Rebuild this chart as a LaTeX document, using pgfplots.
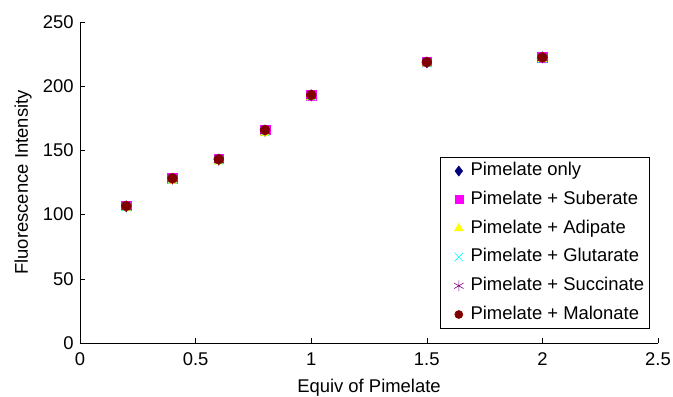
\documentclass[border=0pt]{standalone}
\usepackage{pgfplots}
\pgfplotsset{compat=1.18}
\usepackage{fontspec}
\setmainfont{Liberation Sans}
\definecolor{navy}{RGB}{0,0,128}
\definecolor{dred}{RGB}{128,0,0}
\definecolor{purp}{RGB}{128,0,128}
\definecolor{mag}{RGB}{255,0,255}
\definecolor{yel}{RGB}{255,255,0}
\definecolor{cya}{RGB}{0,255,255}
\newcommand{\f}{\fontsize{18.5}{22}\selectfont}
\begin{document}
\f
\begin{tikzpicture}
\begin{axis}[
  name=ax,
  scale only axis,
  width=578bp, height=321bp,
  xmin=0, xmax=2.5, ymin=0, ymax=250,
  xtick={0,0.5,1,1.5,2,2.5},
  ytick={0,50,100,150,200,250},
  axis x line*=bottom, axis y line*=left,
  tick align=inside,
  major tick length=5bp,
  tick style={black, line width=0.5bp},
  axis line style={black, line width=0.6bp},
  /pgf/number format/assume math mode=true,
  ticklabel style={font=\f},
  xticklabel style={yshift=-3bp},
  xlabel={Equiv of Pimelate},
  ylabel={Fluorescence Intensity},
  xlabel style={font=\f, at={(axis description cs:0.5,0)}, anchor=base, yshift=-49bp},
  ylabel style={font=\f, at={(axis description cs:0,0.5)}, anchor=center, yshift=57bp},
  legend style={at={(0.9862,0.0436)}, anchor=south east, draw=black, line width=0.6bp,
    font=\f, row sep=11.3bp, inner xsep=5.5bp, inner ysep=5.5bp,
    nodes={inner sep=0bp, text height=13.5bp, text depth=3.9bp},
    /tikz/every odd column/.append style={column sep=7bp}},
  legend cell align=left,
  legend image code/.code={\path (0bp,0bp) (16.5bp,0bp); \draw[#1] plot coordinates {(12.5bp,0bp)};},
  only marks,
  clip=false,
]
\addplot[mark=diamond*, mark size=5.5bp, color=navy, fill=navy, legend image post style={mark size=5bp}] coordinates {(0.2,106.5) (0.4,128) (0.6,143) (0.8,165.5) (1,193) (1.5,218.5) (2,222.5)};
\addlegendentry{Pimelate only}
\addplot[mark=square*, mark size=4.8bp, color=mag, fill=mag, legend image post style={mark size=4bp}] coordinates {(0.2,107) (0.4,128.5) (0.6,143.5) (0.8,166) (1,193) (1.5,219) (2,222.5)};
\addlegendentry{Pimelate + Suberate}
\addplot[mark=triangle*, mark size=5.5bp, color=yel, fill=yel, legend image post style={mark size=5bp}] coordinates {(0.2,105) (0.4,126.5) (0.6,141.5) (0.8,163.5) (1,191.5) (1.5,217.5) (2,221)};
\addlegendentry{Pimelate + Adipate}
\addplot[mark=x, mark size=6bp, color=cya, line width=0.6bp, legend image post style={mark size=6bp}] coordinates {(0.2,106) (0.4,127.5) (0.6,142.5) (0.8,164.5) (1,192) (1.5,218) (2,221.5)};
\addlegendentry{Pimelate + Glutarate}
\addplot[mark=asterisk, mark size=5.5bp, color=purp, line width=0.6bp, legend image post style={mark size=5.5bp}] coordinates {(0.2,106) (0.4,128) (0.6,142.5) (0.8,165) (1,192.5) (1.5,218.5) (2,222)};
\addlegendentry{Pimelate + Succinate}
\addplot[mark=*, mark size=5bp, color=dred, fill=dred, legend image post style={mark size=4bp}] coordinates {(0.2,106.7) (0.4,128.3) (0.6,143.1) (0.8,165.9) (1,193.1) (1.5,218.8) (2,222.5)};
\addlegendentry{Pimelate + Malonate}
\end{axis}
\pgfresetboundingbox
\useasboundingbox ([shift={(-80bp,-54bp)}]ax.south west) rectangle ([shift={(15bp,22bp)}]ax.north east);
\end{tikzpicture}
\end{document}
